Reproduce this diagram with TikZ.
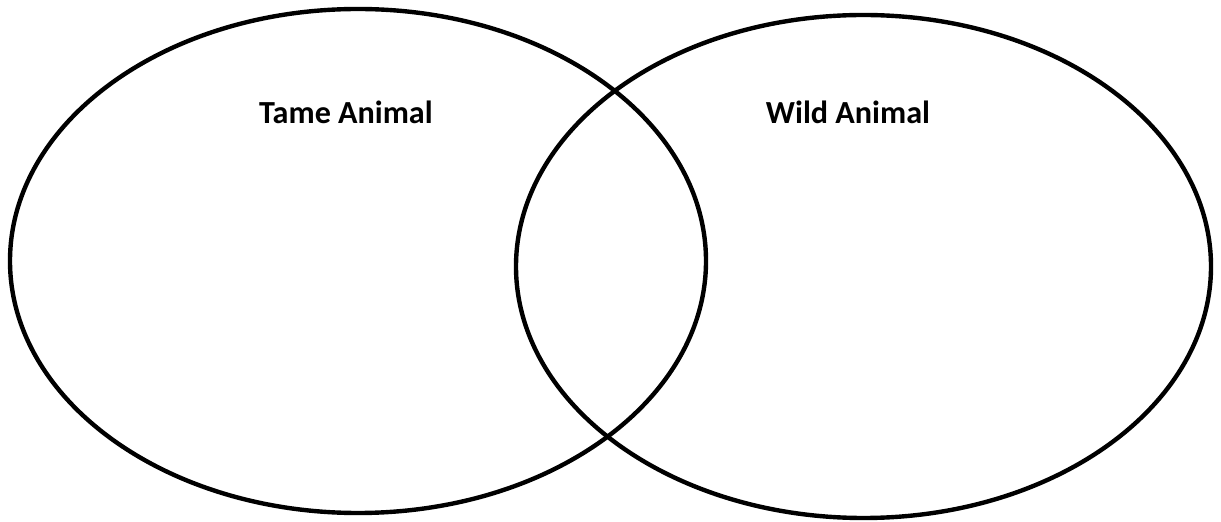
\documentclass[tikz,border=0pt]{standalone}
\usepackage{fontspec}
\setmainfont{Carlito}
\usepackage{tikz}

\begin{document}
\begin{tikzpicture}[line width=2.5pt,font=\fontsize{18.3}{22}\selectfont\bfseries]
\useasboundingbox (0,0) rectangle (24.42,10.42);
\draw (7.16,5.20) ellipse [x radius=6.96,y radius=5.04];
\draw (17.27,5.09) ellipse [x radius=6.95,y radius=5.03];
\node (tame) at (6.92,8.18) {Tame Animal};
\node (wild) at (16.96,8.18) {Wild Animal};
\end{tikzpicture}
\end{document}
